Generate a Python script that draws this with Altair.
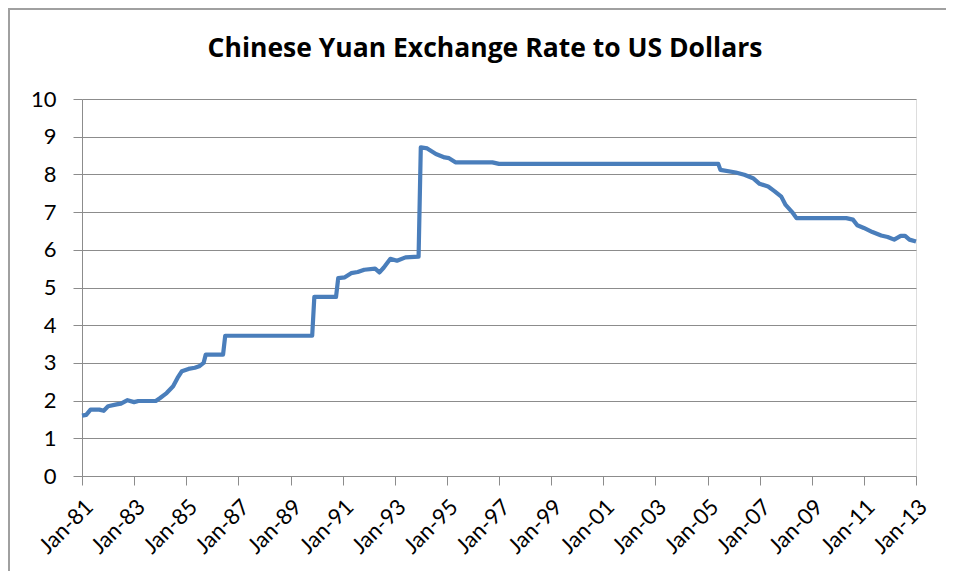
import altair as alt
import pandas as pd

dates = [
    "1981/01/01", "1981/03/01", "1981/05/01", "1981/09/01", "1981/11/01",
    "1982/01/01", "1982/05/01", "1982/07/01", "1982/10/01", "1983/01/01",
    "1983/03/01", "1983/11/01", "1984/01/01", "1984/04/01", "1984/07/01",
    "1984/09/01", "1984/11/01", "1985/02/01", "1985/05/01", "1985/07/01",
    "1985/09/01", "1985/10/01", "1986/06/01", "1986/07/01", "1989/11/01",
    "1989/12/01", "1990/10/01", "1990/11/01", "1991/02/01", "1991/05/01",
    "1991/08/01", "1991/11/01", "1992/04/01", "1992/06/01", "1992/08/01",
    "1992/11/01", "1993/02/01", "1993/06/01", "1993/12/01", "1994/01/01",
    "1994/04/01", "1994/08/01", "1994/12/01", "1995/02/01", "1995/05/01",
    "1996/10/01", "1997/01/01", "2005/06/01", "2005/07/01", "2006/02/01",
    "2006/06/01", "2006/10/01", "2007/01/01", "2007/05/01", "2007/08/01",
    "2007/11/01", "2008/01/01", "2008/04/01", "2008/06/01", "2010/05/01",
    "2010/08/01", "2010/10/01", "2011/01/01", "2011/05/01", "2011/09/01",
    "2011/12/01", "2012/03/01", "2012/06/01", "2012/08/01", "2012/10/01",
    "2013/01/01",
]
rates = [
    1.60, 1.62, 1.76, 1.76, 1.73,
    1.85, 1.90, 1.92, 2.01, 1.96,
    1.99, 1.99, 2.07, 2.20, 2.38,
    2.60, 2.78, 2.84, 2.87, 2.91,
    3.00, 3.22, 3.22, 3.72, 3.72,
    4.75, 4.75, 5.25, 5.27, 5.38,
    5.41, 5.47, 5.50, 5.40, 5.53,
    5.76, 5.71, 5.80, 5.82, 8.72,
    8.69, 8.54, 8.45, 8.43, 8.32,
    8.32, 8.28, 8.28, 8.12, 8.05,
    7.99, 7.90, 7.75, 7.68, 7.55,
    7.41, 7.19, 7.00, 6.84, 6.84,
    6.80, 6.65, 6.58, 6.47, 6.38,
    6.34, 6.27, 6.37, 6.37, 6.27,
    6.22,
]
tick_years = list(range(1981, 2014, 2))
y_ticks = list(range(0, 11))

title_text = "Chinese Yuan Exchange Rate to US Dollars"

df = pd.DataFrame({"date": dates, "rate": rates})

W, H = 834, 377
FONT = "Lato"
GRID = "#8c8c8c"

line = alt.Chart(df).mark_line(color="#4A7EBB", strokeWidth=4.2, strokeJoin="round").encode(
    x=alt.X(
        "date:T",
        scale=alt.Scale(
            domain=[alt.DateTime(year=1981, month=1, date=1),
                    alt.DateTime(year=2013, month=1, date=1)],
            nice=False,
        ),
        axis=alt.Axis(
            title=None,
            values=[alt.DateTime(year=y, month=1, date=1) for y in tick_years],
            format="%b-%y",
            labelAngle=-45,
            labelAlign="right",
            labelBaseline="top",
            labelPadding=11,
            labelFontSize=22,
            labelFont=FONT,
            labelColor="#000000",
            tickSize=9,
            tickColor=GRID,
            domainColor=GRID,
            grid=False,
            labelOverlap=False,
            labelFlush=False,
        ),
    ),
    y=alt.Y(
        "rate:Q",
        scale=alt.Scale(domain=[0, 10], nice=False),
        axis=alt.Axis(
            title=None,
            values=y_ticks,
            labelFontSize=22,
            labelFont=FONT,
            labelColor="#000000",
            labelPadding=17,
            tickSize=9,
            tickColor=GRID,
            domainColor=GRID,
            gridColor=GRID,
            gridWidth=1.2,
        ),
    ),
)

border = alt.Chart(alt.Data(values=[{}])).mark_rect(
    fill=None, stroke="#a0a0a0", strokeWidth=2
).encode(
    x=alt.value(-73), x2=alt.value(W + 200),
    y=alt.value(-90), y2=alt.value(H + 300),
)

title = alt.Chart(alt.Data(values=[{"t": title_text}])).mark_text(
    font="Open Sans", fontSize=26.5, fontWeight="bold", color="#000000",
    align="center", baseline="alphabetic",
).encode(
    text="t:N",
    x=alt.value(403),
    y=alt.value(-42),
)

chart = alt.layer(border, line, title).properties(
    width=W,
    height=H,
    autosize=alt.AutoSizeParams(type="none"),
    padding={"left": 74, "top": 91, "right": 30, "bottom": 95},
).configure_view(stroke=None).configure(background="white")

chart.save("out.html", embed_options={"renderer": "svg", "actions": False})
